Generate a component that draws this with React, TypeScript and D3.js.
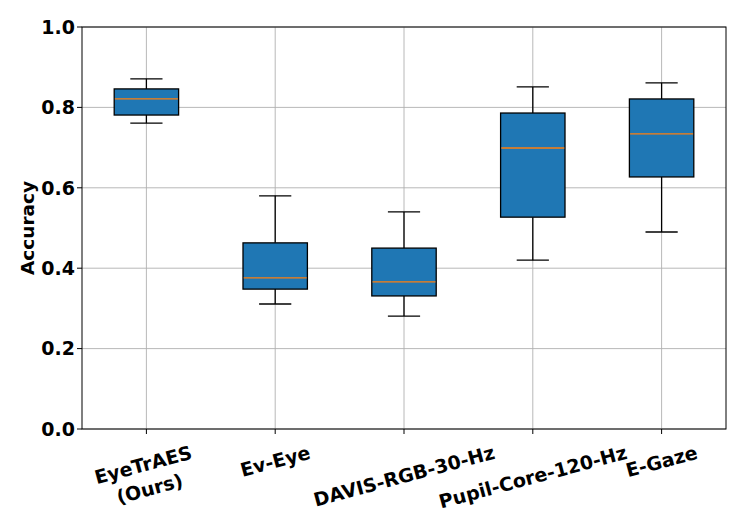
import { useEffect, useRef } from 'react'
import * as d3 from 'd3'

const categories = ['EyeTrAES\n(Ours)', 'Ev-Eye', 'DAVIS-RGB-30-Hz', 'Pupil-Core-120-Hz', 'E-Gaze']
const whiskerLow = [0.761, 0.311, 0.281, 0.42, 0.49]
const q1 = [0.781, 0.348, 0.331, 0.527, 0.627]
const median = [0.821, 0.376, 0.366, 0.699, 0.734]
const q3 = [0.846, 0.463, 0.45, 0.786, 0.821]
const whiskerHigh = [0.871, 0.58, 0.54, 0.851, 0.861]
const yTicks = [0, 0.2, 0.4, 0.6, 0.8, 1.0]

const W = 747
const H = 523
const FONT = '"DejaVu Sans", sans-serif'

const App = () => {
  const ref = useRef<SVGSVGElement>(null)

  useEffect(() => {
    const svg = d3.select(ref.current)
    svg.selectAll('*').remove()

    const margin = { top: 27, right: 21, bottom: 94, left: 82 }
    const innerW = W - margin.left - margin.right
    const innerH = H - margin.top - margin.bottom

    // posições 1..5 com limites 0.5..5.5, como no matplotlib
    const x = d3.scaleLinear().domain([0.5, categories.length + 0.5]).range([0, innerW])
    const y = d3.scaleLinear().domain([0, 1]).range([innerH, 0])
    const boxW = x(1.5) - x(1)
    const capW = x(1.25) - x(1)

    const g = svg.append('g').attr('transform', `translate(${margin.left},${margin.top})`)

    // Grade
    g.selectAll('line.gy')
      .data(yTicks)
      .join('line')
      .attr('x1', 0)
      .attr('x2', innerW)
      .attr('y1', (d) => y(d))
      .attr('y2', (d) => y(d))
      .attr('stroke', '#b0b0b0')
      .attr('stroke-width', 0.9)
    g.selectAll('line.gx')
      .data(categories)
      .join('line')
      .attr('x1', (_, i) => x(i + 1))
      .attr('x2', (_, i) => x(i + 1))
      .attr('y1', 0)
      .attr('y2', innerH)
      .attr('stroke', '#b0b0b0')
      .attr('stroke-width', 0.9)

    // Caixas
    categories.forEach((_, i) => {
      const cx = x(i + 1)
      const bg = g.append('g')
      bg.append('line')
        .attr('x1', cx).attr('x2', cx)
        .attr('y1', y(whiskerHigh[i])).attr('y2', y(q3[i]))
        .attr('stroke', '#000').attr('stroke-width', 1.3)
      bg.append('line')
        .attr('x1', cx).attr('x2', cx)
        .attr('y1', y(q1[i])).attr('y2', y(whiskerLow[i]))
        .attr('stroke', '#000').attr('stroke-width', 1.3)
      ;[whiskerHigh[i], whiskerLow[i]].forEach((v) => {
        bg.append('line')
          .attr('x1', cx - capW / 2).attr('x2', cx + capW / 2)
          .attr('y1', y(v)).attr('y2', y(v))
          .attr('stroke', '#000').attr('stroke-width', 1.3)
      })
      bg.append('rect')
        .attr('x', cx - boxW / 2)
        .attr('width', boxW)
        .attr('y', y(q3[i]))
        .attr('height', y(q1[i]) - y(q3[i]))
        .attr('fill', '#1f77b4')
        .attr('stroke', '#000')
        .attr('stroke-width', 1.3)
      bg.append('line')
        .attr('x1', cx - boxW / 2 + 0.7).attr('x2', cx + boxW / 2 - 0.7)
        .attr('y1', y(median[i])).attr('y2', y(median[i]))
        .attr('stroke', '#ff7f0e').attr('stroke-width', 1.3)
    })

    // Moldura
    g.append('rect')
      .attr('width', innerW)
      .attr('height', innerH)
      .attr('fill', 'none')
      .attr('stroke', '#000')
      .attr('stroke-width', 1)

    // Eixo Y
    yTicks.forEach((t) => {
      g.append('line')
        .attr('x1', -5).attr('x2', 0)
        .attr('y1', y(t)).attr('y2', y(t))
        .attr('stroke', '#000').attr('stroke-width', 1)
      g.append('text')
        .attr('x', -7)
        .attr('y', y(t))
        .attr('dy', '0.36em')
        .attr('text-anchor', 'end')
        .attr('font-family', FONT)
        .attr('font-weight', 'bold')
        .attr('font-size', 19)
        .text(d3.format('.1f')(t))
    })
    g.append('text')
      .attr('transform', `translate(${-48},${innerH / 2}) rotate(-90)`)
      .attr('text-anchor', 'middle')
      .attr('font-family', FONT)
      .attr('font-weight', 'bold')
      .attr('font-size', 18.5)
      .text('Accuracy')

    // Eixo X com rótulos girados 15 graus
    const angle = 15
    const rad = (angle * Math.PI) / 180
    categories.forEach((c, i) => {
      const cx = x(i + 1)
      g.append('line')
        .attr('x1', cx).attr('x2', cx)
        .attr('y1', innerH).attr('y2', innerH + 5)
        .attr('stroke', '#000').attr('stroke-width', 1)
      const lg = g.append('g')
      const text = lg.append('text')
        .attr('text-anchor', 'middle')
        .attr('font-family', FONT)
        .attr('font-weight', 'bold')
        .attr('font-size', 19)
      c.split('\n').forEach((line, k) => {
        text.append('tspan').attr('x', 0).attr('dy', k === 0 ? 0 : '1.3em').text(line)
      })
      const bb = (text.node() as SVGTextElement).getBBox()
      const rotH = bb.width * Math.sin(rad) + bb.height * Math.cos(rad)
      const top = innerH + 12
      const bcx = bb.x + bb.width / 2
      const bcy = bb.y + bb.height / 2
      lg.attr(
        'transform',
        `translate(${cx},${top + rotH / 2}) rotate(${-angle}) translate(${-bcx},${-bcy})`
      )
    })
  }, [])

  return (
    <svg
      ref={ref}
      width={W}
      height={H}
      style={{ position: 'absolute', left: 0, top: 0, background: '#fff' }}
    />
  )
}

export default App
